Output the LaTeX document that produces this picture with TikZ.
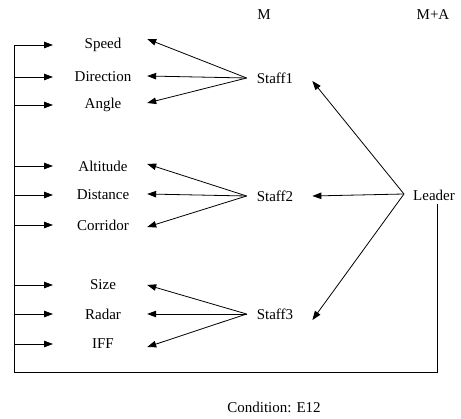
\documentclass[tikz,border=0pt]{standalone}
\usepackage{fontspec}
\setmainfont{Liberation Serif}
\usetikzlibrary{arrows.meta}
\begin{document}
\begin{tikzpicture}[x=1pt,y=-1pt,
  lbl/.style={inner sep=0pt,font=\fontsize{15}{17}\selectfont},
  item/.style={lbl,minimum width=88pt,align=center},
  arr/.style={-{Triangle[length=9pt,width=6.5pt]},line width=0.8pt},
  ln/.style={line width=0.8pt}]
\useasboundingbox (0,0) rectangle (461,419);
% headers
\node[lbl] (M) at (264,15) {M};
\node[lbl] (MA) at (433,15) {M+A};
\node[lbl] (cond) at (274,407) {Condition: E12};
% items
\node[item] (speed) at (103,45) {Speed};
\node[item] (dir) at (103,77) {Direction};
\node[item] (angle) at (103,105) {Angle};
\node[item] (alt) at (103,166) {Altitude};
\node[item] (dist) at (103,195) {Distance};
\node[item] (corr) at (103,225) {Corridor};
\node[item] (size) at (103,285) {Size};
\node[item] (radar) at (103,314) {Radar};
\node[item] (iff) at (103,344) {IFF};
% staff and leader
\node[lbl] (s1) at (275,78) {Staff1};
\node[lbl] (s2) at (275,196) {Staff2};
\node[lbl] (s3) at (275,314) {Staff3};
\node[lbl] (lead) at (434,195) {Leader};
% feedback frame
\coordinate (bl) at (14,372);
\draw[ln] ([xshift=3pt,yshift=-4pt]lead.south) |- (bl) -- (bl |- speed.west);
% left arrows
\foreach \n in {speed,dir,angle,alt,dist,corr,size,radar,iff}
  \draw[arr] (bl |- \n.west) -- ++(39,0);
% staff arrows
\draw[arr] ([xshift=-10pt]s1.west) -- ([yshift=6pt]speed.east);
\draw[arr] ([xshift=-10pt]s1.west) -- ([yshift=1pt]dir.east);
\draw[arr] ([xshift=-10pt]s1.west) -- ([yshift=2pt]angle.east);
\draw[arr] ([xshift=-10pt]s2.west) -- ([yshift=2pt]alt.east);
\draw[arr] ([xshift=-10pt]s2.west) -- ([yshift=1pt]dist.east);
\draw[arr] ([xshift=-10pt]s2.west) -- ([yshift=-2pt]corr.east);
\draw[arr] ([xshift=-10pt]s3.west) -- ([yshift=0pt]size.east);
\draw[arr] ([xshift=-10pt]s3.west) -- ([yshift=0pt]radar.east);
\draw[arr] ([xshift=-10pt]s3.west) -- ([yshift=-3pt]iff.east);
% leader arrows
\draw[arr] ([xshift=-9pt,yshift=1pt]lead.west) -- ([xshift=19pt,yshift=-3pt]s1.east);
\draw[arr] ([xshift=-9pt,yshift=1pt]lead.west) -- ([xshift=19pt,yshift=0pt]s2.east);
\draw[arr] ([xshift=-9pt,yshift=1pt]lead.west) -- ([xshift=19pt,yshift=-6pt]s3.east);
\end{tikzpicture}
\end{document}
